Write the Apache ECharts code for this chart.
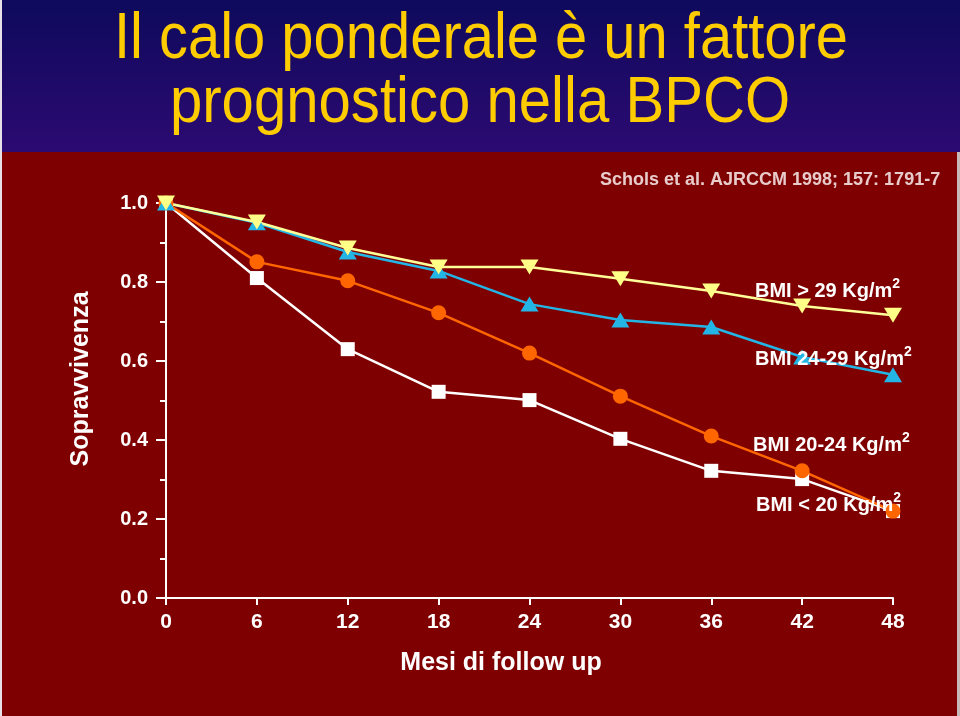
<!DOCTYPE html>
<html><head><meta charset="utf-8">
<script src="https://cdn.jsdelivr.net/npm/echarts@6/dist/echarts.min.js"></script>
<style>html,body{margin:0;padding:0;background:#7f0000}#c{width:960px;height:716px}</style>
</head><body><div id="c"></div>
<script>
var months = [0, 6, 12, 18, 24, 30, 36, 42, 48];
var bmiOver29 = [1.0, 0.952, 0.886, 0.838, 0.838, 0.808, 0.777, 0.739, 0.716];
var bmi24to29 = [1.0, 0.950, 0.876, 0.828, 0.744, 0.704, 0.686, 0.610, 0.565];
var bmi20to24 = [1.0, 0.851, 0.803, 0.722, 0.620, 0.511, 0.410, 0.322, 0.220];
var bmiUnder20 = [1.0, 0.810, 0.630, 0.522, 0.501, 0.403, 0.322, 0.301, 0.220];
var seriesNames = ['BMI < 20 Kg/m', 'BMI 20-24 Kg/m', 'BMI 24-29 Kg/m', 'BMI > 29 Kg/m'];
var yTicks = [0, 0.2, 0.4, 0.6, 0.8, 1.0];

function pairs(vals){ return months.map(function(m,i){ return [m, vals[i]]; }); }

var chart = echarts.init(document.getElementById('c'), null, {renderer:'canvas'});
var font = 'Liberation Sans, Arial, sans-serif';

function mkLabel(txt, x, y){
  return {type:'text', x:x, y:y, z:100, style:{
    text:'{a|'+txt+'}{s|2}', fill:'#fff', align:'left', verticalAlign:'middle',
    rich:{a:{fontFamily:font, fontWeight:'bold', fontSize:20, fill:'#fff', lineHeight:24, verticalAlign:'bottom'},
          s:{fontFamily:font, fontWeight:'bold', fontSize:14, fill:'#fff', lineHeight:24, verticalAlign:'top'}}
  }};
}

var option = {
  backgroundColor:'#7f0000',
  animation:false,
  grid:{left:166, right:67, top:203, bottom:118},
  xAxis:{type:'value', min:0, max:48, interval:6,
    axisLine:{show:true, lineStyle:{color:'#fff', width:2}},
    axisTick:{show:true, length:7, lineStyle:{color:'#fff', width:2}},
    axisLabel:{color:'#fff', fontFamily:font, fontWeight:'bold', fontSize:21, margin:14},
    splitLine:{show:false}},
  yAxis:{type:'value', min:0, max:1.0, interval:0.2,
    axisLine:{show:true, onZero:false, lineStyle:{color:'#fff', width:2}},
    axisTick:{show:true, length:10, lineStyle:{color:'#fff', width:2}},
    minorTick:{show:true, splitNumber:2, length:6, lineStyle:{color:'#fff', width:2}},
    axisLabel:{color:'#fff', fontFamily:font, fontWeight:'bold', fontSize:20, margin:18,
      formatter:function(v){ return v.toFixed(1); }},
    splitLine:{show:false}},
  series:[
    {name:seriesNames[0], type:'line', data:pairs(bmiUnder20), symbol:'rect', symbolSize:14,
      lineStyle:{color:'#ffffff', width:2.5}, itemStyle:{color:'#ffffff'}},
    {name:seriesNames[1], type:'line', data:pairs(bmi20to24), symbol:'circle', symbolSize:15,
      lineStyle:{color:'#ff6600', width:2.5}, itemStyle:{color:'#ff6600'}},
    {name:seriesNames[2], type:'line', data:pairs(bmi24to29), symbol:'triangle', symbolSize:[18,15],
      lineStyle:{color:'#22b5e6', width:2.5}, itemStyle:{color:'#22b5e6'}},
    {name:seriesNames[3], type:'line', data:pairs(bmiOver29), symbol:'triangle', symbolRotate:180, symbolSize:[18,15],
      lineStyle:{color:'#ffff99', width:2.5}, itemStyle:{color:'#ffff88'}}
  ],
  graphic:[
    {type:'rect', shape:{x:0,y:0,width:960,height:152}, z:-10, style:{fill:{type:'linear',x:0,y:0,x2:0,y2:1,
      colorStops:[{offset:0,color:'#0e0a5c'},{offset:1,color:'#2c0a72'}]}}},
    {type:'rect', shape:{x:0,y:0,width:2,height:716}, z:-5, style:{fill:'#e8e0e8'}},
    {type:'rect', shape:{x:957,y:152,width:3,height:564}, z:-5, style:{fill:'#c8b8b8'}},
    {type:'text', x:481, y:40, scaleX:0.891, style:{text:'Il calo ponderale è un fattore', fontFamily:font, fontSize:65,
      fill:'#ffcc00', align:'center', verticalAlign:'middle'}},
    {type:'text', x:480, y:104, scaleX:0.894, style:{text:'prognostico nella BPCO', fontFamily:font, fontSize:65,
      fill:'#ffcc00', align:'center', verticalAlign:'middle'}},
    {type:'text', x:600, y:180, style:{text:'Schols et al. AJRCCM 1998; 157: 1791-7', fontFamily:font, fontWeight:'bold', fontSize:18,
      fill:'#e8cccc', align:'left', verticalAlign:'middle'}},
    {type:'text', x:81, y:379, rotation:Math.PI/2, style:{text:'Sopravvivenza', fontFamily:font, fontWeight:'bold', fontSize:25,
      fill:'#fff', align:'center', verticalAlign:'middle'}},
    {type:'text', x:501, y:663, style:{text:'Mesi di follow up', fontFamily:font, fontWeight:'bold', fontSize:25,
      fill:'#fff', align:'center', verticalAlign:'middle'}},
    mkLabel(seriesNames[3], 755, 289),
    mkLabel(seriesNames[2], 755, 357),
    mkLabel(seriesNames[1], 753, 443),
    mkLabel(seriesNames[0], 756, 503)
  ]
};
chart.setOption(option);
</script></body></html>
